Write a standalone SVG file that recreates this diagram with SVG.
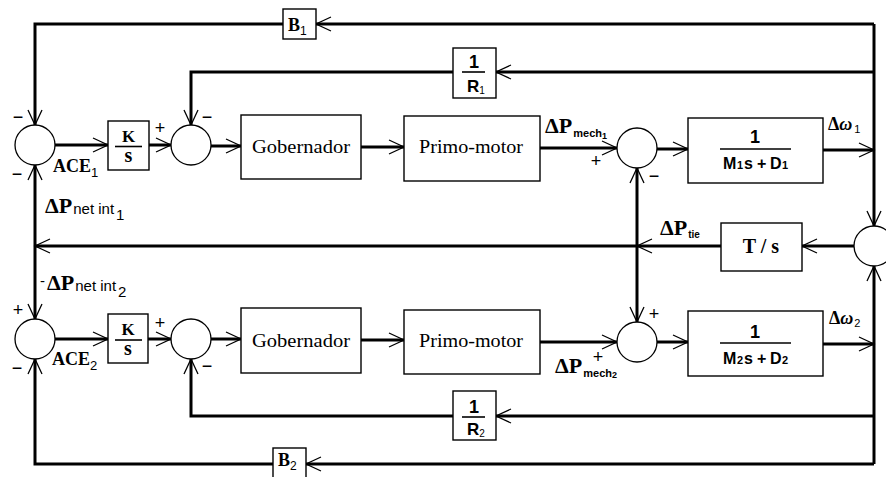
<svg xmlns="http://www.w3.org/2000/svg" width="886" height="477" viewBox="0 0 886 477">
<defs>
<marker id="a" markerUnits="userSpaceOnUse" markerWidth="20" markerHeight="20" viewBox="-16 -10 20 20" refX="0" refY="0" orient="auto" overflow="visible"><path d="M-15,-7 L0,0 L-15,7" fill="none" stroke="#000" stroke-width="1.3"/></marker>
</defs>
<style>
.box{fill:#fff;stroke:#000;stroke-width:1.4}
.sum{fill:#fff;stroke:#000;stroke-width:1.3}
.ln{fill:none;stroke:#000;stroke-width:3;marker-end:url(#a)}
.bar{stroke:#000;stroke-width:1.6}
.rt{font-family:"Liberation Serif",serif;font-size:19px;text-anchor:middle}
.bs{font-family:"Liberation Serif",serif;font-weight:bold}
.ss{font-family:"Liberation Sans",sans-serif;font-weight:bold}
.sub{font-family:"Liberation Sans",sans-serif;font-weight:normal}
.sg{font-family:"Liberation Sans",sans-serif;font-size:18px;text-anchor:middle}
</style>
<rect width="886" height="477" fill="#fff"/>
<g id="connectors">
<path class="ln" d="M874,24 L316,24"/>
<path class="ln" d="M283,24 L35,24 L35,125"/>
<path class="ln" d="M874,72 L496,72"/>
<path class="ln" d="M453,72 L191,72 L191,125"/>
<path class="ln" d="M874,24 L874,226"/>
<path class="ln" d="M823,150 L874,150"/>
<path class="ln" d="M854,246 L802,246"/>
<path class="ln" d="M721,246 L637,246"/>
<path class="ln" d="M637,246 L35,246"/>
<path class="ln" d="M637,246 L637,168"/>
<path class="ln" d="M637,246 L637,322"/>
<path class="ln" d="M35,246 L35,165"/>
<path class="ln" d="M35,246 L35,319"/>
<path class="ln" d="M874,464 L874,266"/>
<path class="ln" d="M874,464 L306,464"/>
<path class="ln" d="M273,464 L35,464 L35,359"/>
<path class="ln" d="M874,416 L496,416"/>
<path class="ln" d="M453,416 L191,416 L191,359"/>
<path class="ln" d="M823,344 L874,344"/>
<path class="ln" d="M55,145 L108,145"/>
<path class="ln" d="M149,145 L171,145"/>
<path class="ln" d="M211,146 L241,146"/>
<path class="ln" d="M361,147 L404,147"/>
<path class="ln" d="M540,148 L617,148"/>
<path class="ln" d="M657,149 L688,149"/>
<path class="ln" d="M55,339 L108,339"/>
<path class="ln" d="M148,339 L171,339"/>
<path class="ln" d="M211,339 L241,339"/>
<path class="ln" d="M361,340 L404,340"/>
<path class="ln" d="M540,342 L617,342"/>
<path class="ln" d="M657,342 L688,342"/>
</g>
<g id="sum1"><circle class="sum" cx="35" cy="145" r="20"/></g>
<g id="sum2"><circle class="sum" cx="191" cy="145" r="20"/></g>
<g id="sum3"><circle class="sum" cx="637" cy="148" r="20"/></g>
<g id="sum4"><circle class="sum" cx="874" cy="246" r="20"/></g>
<g id="sum5"><circle class="sum" cx="637" cy="342" r="20"/></g>
<g id="sum6"><circle class="sum" cx="35" cy="339" r="20"/></g>
<g id="sum7"><circle class="sum" cx="191" cy="339" r="20"/></g>
<g id="ks1"><rect class="box" x="108" y="121" width="41" height="49"/>
<text class="bs" x="128.5" y="142" font-size="17" text-anchor="middle">K</text>
<line class="bar" x1="115" y1="146.5" x2="142" y2="146.5"/>
<text class="bs" x="128.5" y="162" font-size="20" text-anchor="middle">s</text></g>
<g id="ks2"><rect class="box" x="108" y="314" width="40" height="49"/>
<text class="bs" x="128" y="335" font-size="17" text-anchor="middle">K</text>
<line class="bar" x1="115" y1="340" x2="142" y2="340"/>
<text class="bs" x="128" y="355" font-size="20" text-anchor="middle">s</text></g>
<g id="gob1"><rect class="box" x="241" y="115" width="120" height="64"/>
<text class="rt" x="301" y="153" textLength="98" lengthAdjust="spacingAndGlyphs">Gobernador</text></g>
<g id="gob2"><rect class="box" x="241" y="308" width="120" height="65"/>
<text class="rt" x="301" y="347" textLength="98" lengthAdjust="spacingAndGlyphs">Gobernador</text></g>
<g id="pm1"><rect class="box" x="404" y="116" width="136" height="65"/>
<text class="rt" x="471" y="153" textLength="104" lengthAdjust="spacingAndGlyphs">Primo-motor</text></g>
<g id="pm2"><rect class="box" x="404" y="310" width="136" height="64"/>
<text class="rt" x="471" y="347" textLength="104" lengthAdjust="spacingAndGlyphs">Primo-motor</text></g>
<g id="m1"><rect class="box" x="688" y="118" width="135" height="65"/>
<text class="ss" x="755" y="143" font-size="18" text-anchor="middle">1</text>
<line class="bar" x1="720" y1="149" x2="791" y2="149"/>
<text class="ss" x="723" y="169" font-size="16">M<tspan font-size="11" x="737">1</tspan><tspan x="744">s</tspan><tspan x="757">+</tspan><tspan x="770">D</tspan><tspan font-size="11" x="782">1</tspan></text></g>
<g id="m2"><rect class="box" x="688" y="311" width="135" height="65"/>
<text class="ss" x="755" y="338" font-size="18" text-anchor="middle">1</text>
<line class="bar" x1="720" y1="343" x2="791" y2="343"/>
<text class="ss" x="723" y="364" font-size="16">M<tspan font-size="11" x="737">2</tspan><tspan x="744">s</tspan><tspan x="757">+</tspan><tspan x="770">D</tspan><tspan font-size="11" x="782">2</tspan></text></g>
<g id="r1"><rect class="box" x="453" y="48" width="43" height="50"/>
<text class="ss" x="474" y="68" font-size="18" text-anchor="middle">1</text>
<line class="bar" x1="462" y1="72" x2="485" y2="72"/>
<text class="ss" x="467" y="92" font-size="17">R<tspan class="sub" font-size="10" font-weight="bold" dy="2">1</tspan></text></g>
<g id="r2"><rect class="box" x="453" y="391" width="43" height="49"/>
<text class="ss" x="474" y="413" font-size="18" text-anchor="middle">1</text>
<line class="bar" x1="462" y1="417" x2="485" y2="417"/>
<text class="ss" x="467" y="435" font-size="17">R<tspan class="sub" font-size="10" font-weight="bold" dy="2">2</tspan></text></g>
<g id="b1"><rect class="box" x="283" y="9" width="33" height="30"/>
<text class="bs" x="288" y="31" font-size="18">B<tspan class="sub" font-size="12" dy="4">1</tspan></text></g>
<g id="b2"><rect class="box" x="273" y="448" width="33" height="32"/>
<text class="bs" x="278" y="466" font-size="18">B<tspan class="sub" font-size="12" dy="4">2</tspan></text></g>
<g id="ts"><rect class="box" x="721" y="223" width="81" height="48"/>
<text class="bs" x="761" y="253" font-size="20" text-anchor="middle" xml:space="preserve">T / s</text></g>
<g id="labels">
<text class="bs" x="53" y="172" font-size="18">ACE<tspan class="sub" font-size="13" dy="5">1</tspan></text>
<text class="bs" x="52" y="365" font-size="18">ACE<tspan class="sub" font-size="13" dy="5">2</tspan></text>
<text class="bs" x="45" y="213" font-size="22">ΔP<tspan class="sub" font-size="15" dy="1" dx="1">net int</tspan><tspan class="sub" font-size="15" dy="6" dx="2">1</tspan></text>
<text class="bs" x="40" y="290" font-size="22"><tspan class="sub" font-size="15" dy="-4">-</tspan><tspan dy="4" dx="2">ΔP</tspan><tspan class="sub" font-size="15" dy="1" dx="1">net int</tspan><tspan class="sub" font-size="15" dy="6" dx="2">2</tspan></text>
<text class="bs" x="545" y="133" font-size="22">ΔP<tspan class="ss" font-size="11" dy="4" dx="1">mech</tspan><tspan class="ss" font-size="9" dy="2">1</tspan></text>
<text class="bs" x="555" y="373" font-size="22">ΔP<tspan class="ss" font-size="11" dy="4" dx="1">mech</tspan><tspan class="ss" font-size="9" dy="1">2</tspan></text>
<text class="bs" x="660" y="235" font-size="22">ΔP<tspan class="ss" font-size="10" dy="3" dx="1">tie</tspan></text>
<text class="bs" x="828" y="130" font-size="18">Δ<tspan font-style="italic">ω</tspan><tspan class="sub" font-size="11" dy="3" dx="2">1</tspan></text>
<text class="bs" x="829" y="324" font-size="18">Δ<tspan font-style="italic">ω</tspan><tspan class="sub" font-size="11" dy="3" dx="1">2</tspan></text>
<text class="sg" x="18" y="123">−</text>
<text class="sg" x="17" y="180">−</text>
<text class="sg" x="160" y="134">+</text>
<text class="sg" x="207" y="123">−</text>
<text class="sg" x="596" y="167">+</text>
<text class="sg" x="654" y="182">−</text>
<text class="sg" x="654" y="320">+</text>
<text class="sg" x="598" y="363">+</text>
<text class="sg" x="18" y="316">+</text>
<text class="sg" x="17" y="374">−</text>
<text class="sg" x="160" y="329">+</text>
<text class="sg" x="207" y="372">−</text>
</g>
</svg>
